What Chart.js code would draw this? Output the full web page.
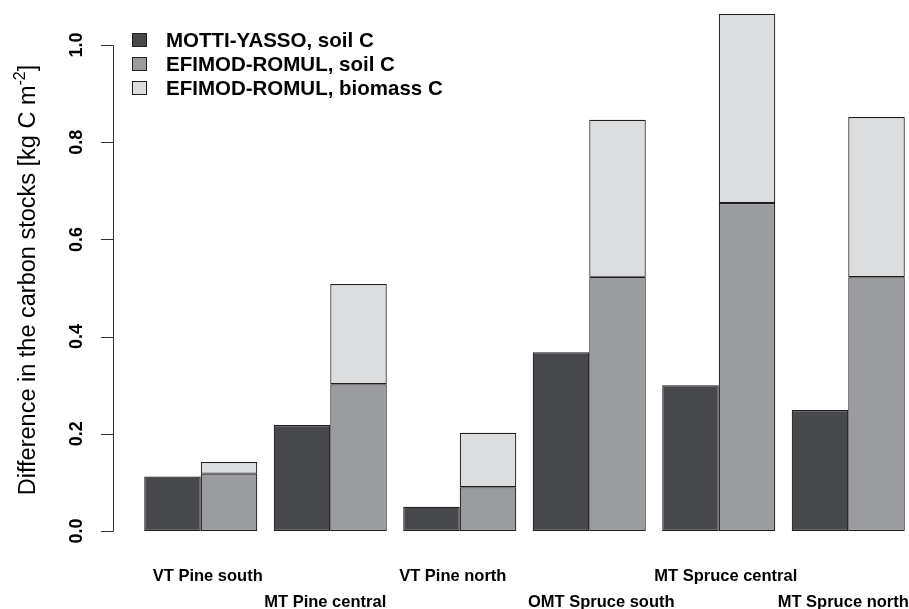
<!DOCTYPE html>
<html>
<head>
<meta charset="utf-8">
<script src="https://cdn.jsdelivr.net/npm/chart.js@4/dist/chart.umd.min.js"></script>
<style>
  html, body { margin: 0; padding: 0; background: #fff; overflow: hidden; width: 909px; height: 609px; }
  #wrap { width: 913px; height: 609px; }
  canvas { display: block; }
</style>
</head>
<body>
<div id="wrap"><canvas id="c" width="913" height="609"></canvas></div>
<script>
// ---- data ----
const categories = ['VT Pine south', 'MT Pine central', 'VT Pine north', 'OMT Spruce south', 'MT Spruce central', 'MT Spruce north'];
const mottiSoil = [0.112, 0.218, 0.050, 0.368, 0.300, 0.249];
const efimodSoil = [0.118, 0.302, 0.090, 0.523, 0.675, 0.522];
const efimodBiomass = [0.024, 0.206, 0.112, 0.323, 0.389, 0.330];
const seriesNames = ['MOTTI-YASSO, soil C', 'EFIMOD-ROMUL, soil C', 'EFIMOD-ROMUL, biomass C'];
const yTicks = [0.0, 0.2, 0.4, 0.6, 0.8, 1.0];
const yTickLabels = ['0.0', '0.2', '0.4', '0.6', '0.8', '1.0'];
const yTitle = 'Difference in the carbon stocks [kg C m';
const yTitleSup = '-2';
const yTitleEnd = ']';

const FONT = '"Liberation Sans", Arial, Helvetica, sans-serif';
const colors = ['#47484c', '#9a9ca0', '#dcdddf'];

const rAxisPlugin = {
  id: 'rAxis',
  afterDraw(chart) {
    const ctx = chart.ctx;
    const y = chart.scales.y;
    const xs = chart.scales.x;
    const axisX = 113;
    ctx.save();
    ctx.strokeStyle = '#333';
    ctx.lineWidth = 1;
    ctx.beginPath();
    const y0 = Math.round(y.getPixelForValue(yTicks[0])) + 0.5;
    const y1 = Math.round(y.getPixelForValue(yTicks[yTicks.length - 1])) + 0.5;
    ctx.moveTo(axisX + 0.5, y0);
    ctx.lineTo(axisX + 0.5, y1);
    yTicks.forEach(v => {
      const py = Math.round(y.getPixelForValue(v)) + 0.5;
      ctx.moveTo(101, py);
      ctx.lineTo(axisX + 0.5, py);
    });
    ctx.stroke();
    // y tick labels (rotated, bold)
    ctx.fillStyle = '#000';
    ctx.font = 'bold 18px ' + FONT;
    ctx.textAlign = 'center';
    ctx.textBaseline = 'middle';
    yTicks.forEach((v, i) => {
      const py = y.getPixelForValue(v);
      ctx.save();
      ctx.translate(77, py);
      ctx.rotate(-Math.PI / 2);
      ctx.fillText(yTickLabels[i], 0, 0);
      ctx.restore();
    });
    // x category labels, alternating rows (R-style staggered labels)
    const labelDx = [7, -5, -7, 12, 7, -5];
    ctx.font = 'bold 16.5px ' + FONT;
    ctx.textAlign = 'center';
    ctx.textBaseline = 'middle';
    chart.data.labels.forEach((lab, i) => {
      const px = xs.getPixelForValue(i) + labelDx[i];
      const py = i % 2 ? 602 : 576;
      ctx.fillText(lab, px, py);
    });
    // axis title
    ctx.save();
    ctx.translate(29, 280);
    ctx.rotate(-Math.PI / 2);
    ctx.textBaseline = 'middle';
    ctx.textAlign = 'left';
    const mainFont = '23.5px ' + FONT;
    const supFont = '16px ' + FONT;
    ctx.font = mainFont;
    const w1 = ctx.measureText(yTitle).width;
    const w3 = ctx.measureText(yTitleEnd).width;
    ctx.font = supFont;
    const w2 = ctx.measureText(yTitleSup).width;
    const total = w1 + w2 + w3;
    let x = -total / 2;
    ctx.font = mainFont;
    ctx.fillText(yTitle, x, 0);
    x += w1;
    ctx.font = supFont;
    ctx.fillText(yTitleSup, x, -8);
    x += w2;
    ctx.font = mainFont;
    ctx.fillText(yTitleEnd, x, 0);
    ctx.restore();
    // legend
    ctx.font = 'bold 20.5px ' + FONT;
    ctx.textAlign = 'left';
    ctx.textBaseline = 'middle';
    chart.data.datasets.forEach((ds, i) => {
      const cy = 40 + i * 24;
      ctx.fillStyle = ds.backgroundColor;
      ctx.fillRect(132.5, cy - 6.5, 14, 13);
      ctx.strokeStyle = '#222';
      ctx.lineWidth = 1;
      ctx.strokeRect(132.5, cy - 6.5, 14, 13);
      ctx.fillStyle = '#000';
      ctx.fillText(ds.label, 166, cy + 1);
    });
    ctx.restore();
  }
};

const mk = (label, data, color, stack) => ({
  label, data, stack,
  backgroundColor: color,
  borderColor: '#1e1e1e',
  borderWidth: 1.2,
  borderSkipped: false,
  barPercentage: 1.0,
  categoryPercentage: 0.873
});

new Chart(document.getElementById('c'), {
  type: 'bar',
  data: {
    labels: categories,
    datasets: [
      mk(seriesNames[0], mottiSoil, colors[0], 'motti'),
      mk(seriesNames[1], efimodSoil, colors[1], 'efimod'),
      mk(seriesNames[2], efimodBiomass, colors[2], 'efimod')
    ]
  },
  options: {
    responsive: false,
    animation: false,
    devicePixelRatio: 1,
    layout: { padding: { left: 136, right: 0, top: 11, bottom: 0 } },
    plugins: { legend: { display: false }, tooltip: { enabled: false } },
    scales: {
      x: {
        stacked: true,
        grid: { display: false, drawTicks: false },
        border: { display: false },
        ticks: { display: false },
        afterFit(scale) {
          scale.height = 78;
          scale.paddingLeft = 0;
          scale.paddingRight = 0;
        }
      },
      y: {
        stacked: true,
        display: false,
        min: 0,
        max: 1.07
      }
    }
  },
  plugins: [rAxisPlugin]
});
</script>
</body>
</html>
